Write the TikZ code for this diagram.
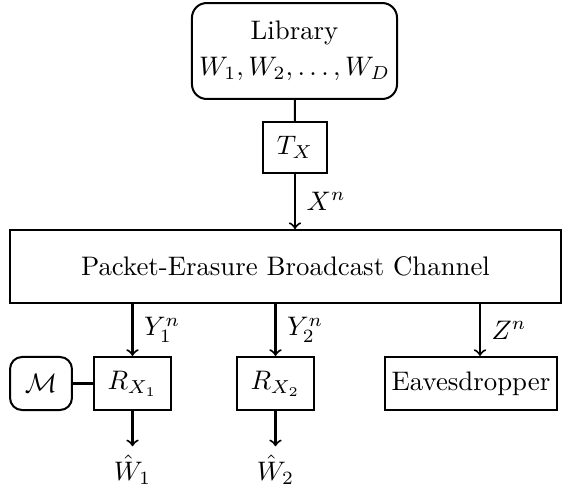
\documentclass[tikz,border=0pt]{standalone}
\usetikzlibrary{calc}
\begin{document}
\begin{tikzpicture}[x=0.3731pt,y=-0.3731pt,
  box/.style={draw,line width=0.75pt,inner sep=0pt,align=center},
  rbox/.style={box,rounded corners=5.5pt},
  lbl/.style={inner sep=0pt},
  every path/.style={line width=0.75pt}]
\useasboundingbox (0,0) rectangle (571,495);
\node[rbox,minimum width=76.5pt,minimum height=35.8pt] (lib) at (294.5,51) {Library\\[1.5pt]$W_1,W_2,\ldots,W_D$};
\node[box,minimum width=23.9pt,minimum height=19pt] (tx) at (295,147.5) {$T_X$};
\node[box,minimum width=205.6pt,minimum height=27.2pt] (ch) at (285.5,266.5) {Packet-Erasure Broadcast Channel};
\node[box,minimum width=28.4pt,minimum height=19.8pt] (r1) at (132.5,383.5) {$R_{X_1}$};
\node[box,minimum width=28.4pt,minimum height=19.8pt] (r2) at (275.5,383.5) {$R_{X_2}$};
\node[box,minimum width=64.2pt,minimum height=19.8pt] (ev) at (471,383.5) {Eavesdropper};
\node[rbox,rounded corners=4.5pt,minimum width=23.1pt,minimum height=19.8pt] (m) at (41,383.5) {$\mathcal{M}$};
\node[lbl] (w1) at (132.5,470) {$\hat{W}_1$};
\node[lbl] (w2) at (275.5,470) {$\hat{W}_2$};
\coordinate (evx) at (480,0);
\draw (lib) -- (tx);
\draw[->] (tx) -- node[right,inner sep=4pt] {$X^n$} (tx |- ch.north);
\draw[->] (r1 |- ch.south) -- node[right,inner sep=4pt] {$Y_1^n$} (r1);
\draw[->] (r2 |- ch.south) -- node[right,inner sep=4pt] {$Y_2^n$} (r2);
\draw[->] (evx |- ch.south) -- node[right,inner sep=4pt] {$Z^n$} (evx |- ev.north);
\draw (m) -- (r1);
\draw[->] (r1) -- ($(w1.north)+(0,-8)$);
\draw[->] (r2) -- ($(w2.north)+(0,-8)$);
\end{tikzpicture}
\end{document}
